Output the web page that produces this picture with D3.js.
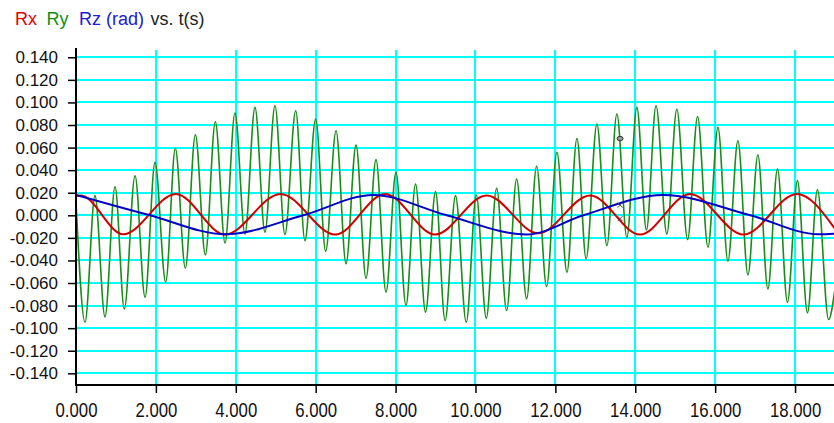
<!DOCTYPE html>
<html>
<head>
<meta charset="utf-8">
<script src="https://cdn.jsdelivr.net/npm/d3@7"></script>
<style>
body { margin: 0; background: #fff; }
svg { display: block; font-family: "Liberation Sans", Arial, sans-serif; }
</style>
</head>
<body>
<svg id="chart" width="834" height="423"></svg>
<script>
// tick values
var xTicks = [0, 2, 4, 6, 8, 10, 12, 14, 16, 18];
var yTicks = [-0.14, -0.12, -0.10, -0.08, -0.06, -0.04, -0.02, 0, 0.02, 0.04, 0.06, 0.08, 0.10, 0.12, 0.14];

// Rx (rad) vs t(s), turning points
var rxPoints = [
	[0, 0.0172], [0.12, 0.0176], [1.18, -0.0168], [2.5, 0.0189], [3.73, -0.017],
	[5.12, 0.0189], [6.49, -0.017], [7.74, 0.0189], [8.99, -0.017], [10.28, 0.0176],
	[11.57, -0.016], [12.87, 0.0176], [14.12, -0.017], [15.37, 0.0189], [16.71, -0.017],
	[18.05, 0.0189], [19.0, -0.012]
];

// Ry (rad) vs t(s), every peak and trough
var ryPoints = [
	[0, 0.012], [0.225, -0.0947], [0.475, 0.0174], [0.726, -0.090], [0.977, 0.0253],
	[1.21, -0.083], [1.478, 0.035], [1.728, -0.0726], [1.978, 0.0469], [2.245, -0.0593],
	[2.487, 0.0593], [2.737, -0.0469], [2.988, 0.0714], [3.238, -0.0351], [3.488, 0.0829],
	[3.73, -0.0245], [3.98, 0.0906], [4.23, -0.0165], [4.48, 0.0956], [4.73, -0.015],
	[4.98, 0.097], [5.23, -0.017], [5.50, 0.0926], [5.73, -0.0224], [6.0, 0.0853],
	[6.25, -0.0319], [6.51, 0.0749], [6.76, -0.043], [7.01, 0.0622], [7.26, -0.0558],
	[7.51, 0.0493], [7.76, -0.068], [8.01, 0.038], [8.26, -0.080], [8.50, 0.0277],
	[8.75, -0.0858], [9.0, 0.021], [9.24, -0.0932], [9.50, 0.0174], [9.77, -0.0947],
	[10.02, 0.018], [10.27, -0.0911], [10.53, 0.0239], [10.78, -0.0844], [11.03, 0.0322],
	[11.28, -0.074], [11.53, 0.0434], [11.78, -0.0631], [12.04, 0.0558], [12.29, -0.0504],
	[12.54, 0.0681], [12.77, -0.0386], [13.04, 0.0808], [13.29, -0.0268], [13.54, 0.0897],
	[13.79, -0.0195], [14.04, 0.0956], [14.28, -0.013], [14.52, 0.097], [14.79, -0.0165],
	[15.04, 0.094], [15.31, -0.0215], [15.56, 0.0876], [15.82, -0.0283], [16.07, 0.0779],
	[16.32, -0.0407], [16.57, 0.0661], [16.82, -0.0528], [17.07, 0.0534], [17.32, -0.0652],
	[17.56, 0.041], [17.81, -0.077], [18.06, 0.0307], [18.31, -0.0864], [18.56, 0.0227],
	[18.84, -0.0923], [19.0, -0.065]
];

// Rz (rad) vs t(s), turning points and zero crossings
var rzPoints = [
	[0, 0.018], [1.85, 0], [3.75, -0.0168], [5.69, 0], [7.44, 0.018], [9.28, 0],
	[11.28, -0.017], [12.7, 0], [14.7, 0.018], [16.88, 0], [18.6, -0.0168], [19.0, -0.0163]
];

// little cursor marks left on the plot
var markOval = [13.62, 0.068];
var markCross = [[13.62, 0.009], [13.62, -0.003]];

var svg = d3.select("#chart");

// scales
var x = d3.scaleLinear().domain([0, 19]).range([76, 835]);
var y = d3.scaleLinear().domain([-0.15, 0.15]).range([384.6, 46]);

var plotLeft = 76, plotRight = 834, plotTop = 48, plotBottom = 385;

// format with a plain hyphen
function fmt(d) {
	var s = Math.abs(d).toFixed(3);
	return (d < -1e-9 ? "-" : "") + s;
}

// grid
var grid = svg.append("g").attr("class", "grid")
	.attr("stroke", "#00ffff")
	.attr("stroke-width", 2);

grid.selectAll(".hline")
	.data(yTicks)
	.enter().append("line")
	.attr("x1", plotLeft)
	.attr("x2", plotRight)
	.attr("y1", function(d){ return Math.round(y(d)); })
	.attr("y2", function(d){ return Math.round(y(d)); });

grid.selectAll(".vline")
	.data(xTicks.slice(1))
	.enter().append("line")
	.attr("y1", plotTop + 2)
	.attr("y2", plotBottom)
	.attr("x1", function(d){ return Math.round(x(d)); })
	.attr("x2", function(d){ return Math.round(x(d)); });

// clip for the curves
svg.append("clipPath").attr("id", "plotclip")
	.append("rect")
	.attr("x", plotLeft).attr("y", plotTop)
	.attr("width", plotRight - plotLeft).attr("height", plotBottom - plotTop);

var line = d3.line()
	.x(function(d){ return x(d[0]); })
	.y(function(d){ return y(d[1]); })
	.curve(d3.curveMonotoneX);

var curves = svg.append("g").attr("clip-path", "url(#plotclip)");

// Ry first, the others sit on top
curves.append("path")
	.datum(ryPoints)
	.attr("d", line)
	.attr("fill", "none")
	.attr("stroke", "#1a8c1a")
	.attr("stroke-width", 1.6);

curves.append("path")
	.datum(rxPoints)
	.attr("d", line)
	.attr("fill", "none")
	.attr("stroke", "#d00000")
	.attr("stroke-width", 2);

curves.append("path")
	.datum(rzPoints)
	.attr("d", line)
	.attr("fill", "none")
	.attr("stroke", "#0000c8")
	.attr("stroke-width", 2);

// cursor marks
curves.append("ellipse")
	.attr("cx", x(markOval[0]))
	.attr("cy", y(markOval[1]))
	.attr("rx", 3)
	.attr("ry", 2.2)
	.attr("fill", "#999")
	.attr("stroke", "#333")
	.attr("stroke-width", 1);

curves.selectAll(".cross")
	.data(markCross)
	.enter().append("path")
	.attr("d", function(d){
		var cx = x(d[0]), cy = y(d[1]);
		return "M" + (cx - 2.5) + "," + (cy - 2.5) + "L" + (cx + 2.5) + "," + (cy + 2.5) +
			"M" + (cx - 2.5) + "," + (cy + 2.5) + "L" + (cx + 2.5) + "," + (cy - 2.5);
	})
	.attr("stroke", "#444")
	.attr("stroke-width", 1);

// y axis
var yAxis = svg.append("g")
	.attr("transform", "translate(" + plotLeft + ",0)")
	.call(d3.axisLeft(y).tickValues(yTicks).tickSize(8).tickPadding(10).tickFormat(fmt));
yAxis.select(".domain").remove();
yAxis.selectAll(".tick line").attr("stroke", "#000").attr("stroke-width", 1.5);
yAxis.selectAll("text")
	.attr("font-size", 17)
	.attr("font-family", "Liberation Sans, Arial, sans-serif")
	.attr("fill", "#111");

// x axis
var xAxis = svg.append("g")
	.attr("transform", "translate(0," + plotBottom + ")")
	.call(d3.axisBottom(x).tickValues(xTicks).tickSize(8).tickPadding(10).tickFormat(fmt));
xAxis.select(".domain").remove();
xAxis.selectAll(".tick line").attr("stroke", "#000").attr("stroke-width", 1.5);
xAxis.selectAll("text")
	.attr("font-size", 20)
	.attr("font-family", "Liberation Sans, Arial, sans-serif")
	.attr("fill", "#111")
	.attr("transform", "scale(0.84,1)");

// axis lines
svg.append("line")
	.attr("x1", plotLeft).attr("x2", plotLeft)
	.attr("y1", plotTop).attr("y2", plotBottom + 1)
	.attr("stroke", "#000").attr("stroke-width", 2);
svg.append("line")
	.attr("x1", plotLeft).attr("x2", plotRight)
	.attr("y1", plotBottom).attr("y2", plotBottom)
	.attr("stroke", "#000").attr("stroke-width", 2);

// title, one colour per series
var title = svg.append("text")
	.attr("y", 25)
	.attr("font-size", 18);
title.append("tspan").attr("x", 15).attr("fill", "#e00000").text("Rx");
title.append("tspan").attr("x", 46.5).attr("fill", "#109010").text("Ry");
title.append("tspan").attr("x", 79).attr("fill", "#2020d0").text("Rz (rad)");
title.append("tspan").attr("x", 150.5).attr("fill", "#222").text("vs. t(s)");
</script>
</body>
</html>
